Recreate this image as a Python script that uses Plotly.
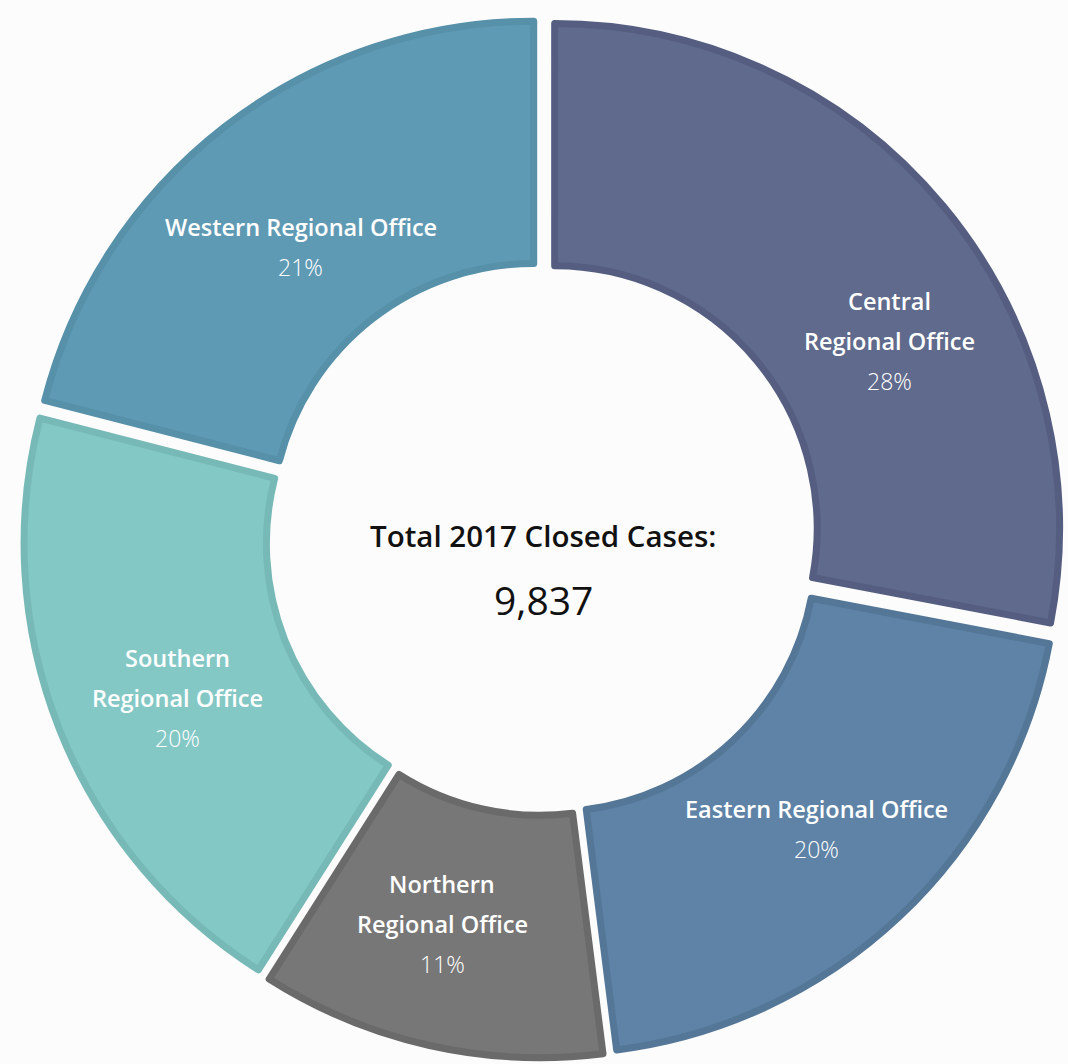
import math
import plotly.graph_objects as go

offices = ["Central<br>Regional Office", "Eastern Regional Office", "Northern<br>Regional Office",
           "Southern<br>Regional Office", "Western Regional Office"]
shares = [28, 20, 11, 20, 21]
total_closed = 9837
title_text = "Total 2017 Closed Cases:"

fill_colors = ["#5f6a8c", "#5e83a6", "#777777", "#84c8c6", "#5f9ab5"]
edge_colors = ["#555e80", "#557797", "#6a6a6a", "#77b9b6", "#5690a9"]

W, H = 1068, 1064
ml, mr, mt, mb = 23, 5, 18, 6
HOLE = 0.52
PULL = 0.03
LINE_GAP = 40          # px between text lines inside slices
angle_nudge = [10, 0, 2, -2, -2]     # degrees, label placement tweak
radial_nudge = [0, 0, 0, 0, -20]     # px, label placement tweak

fig = go.Figure(go.Pie(
    labels=offices,
    values=shares,
    sort=False,
    direction="clockwise",
    rotation=0,
    hole=HOLE,
    pull=[PULL] * len(shares),
    marker=dict(colors=fill_colors, line=dict(color=edge_colors, width=7)),
    textinfo="none",
    showlegend=False,
    hoverinfo="label+percent",
))

# label placement derived from the slice geometry
plot_px = W - ml - mr
total = sum(shares)
R_paper = 0.5 / (1 + PULL)
r_text = R_paper * ((1 + HOLE) / 2 + PULL)
cum = 0.0
for lab, v, nud, rn in zip(offices, shares, angle_nudge, radial_nudge):
    mid = (cum + v / 2) / total * 360 + nud
    cum += v
    th = math.radians(mid)
    rr = r_text + rn / plot_px
    x = 0.5 + rr * math.sin(th)
    y = 0.5 + rr * math.cos(th)
    lines = [(l, 600, 23.5) for l in lab.split("<br>")] + [(f"{round(v / total * 100)}%", 300, 23)]
    n = len(lines)
    for k, (txt, wgt, sz) in enumerate(lines):
        fig.add_annotation(
            x=x, y=y, xref="paper", yref="paper", text=txt, showarrow=False,
            xanchor="center", yanchor="middle",
            yshift=((n - 1) / 2 - k) * LINE_GAP,
            font=dict(family="Open Sans", size=sz, color="white", weight=wgt),
        )

fig.add_annotation(x=0.5, y=0.5, xref="paper", yref="paper", text=title_text,
                   showarrow=False, yshift=3, xanchor="center", yanchor="middle",
                   font=dict(family="Open Sans", size=29.5, color="#111111", weight=600))
fig.add_annotation(x=0.5, y=0.5, xref="paper", yref="paper", text=f"{total_closed:,}",
                   showarrow=False, yshift=-61, xanchor="center", yanchor="middle",
                   font=dict(family="Open Sans", size=39, color="#111111", weight=500))

fig.update_layout(
    width=W, height=H,
    margin=dict(l=ml, r=mr, t=mt, b=mb),
    paper_bgcolor="#fcfcfc",
    plot_bgcolor="#fcfcfc",
)

fig.write_html("out.html", config={"displayModeBar": False},
               post_script="document.body.style.margin='0';")
